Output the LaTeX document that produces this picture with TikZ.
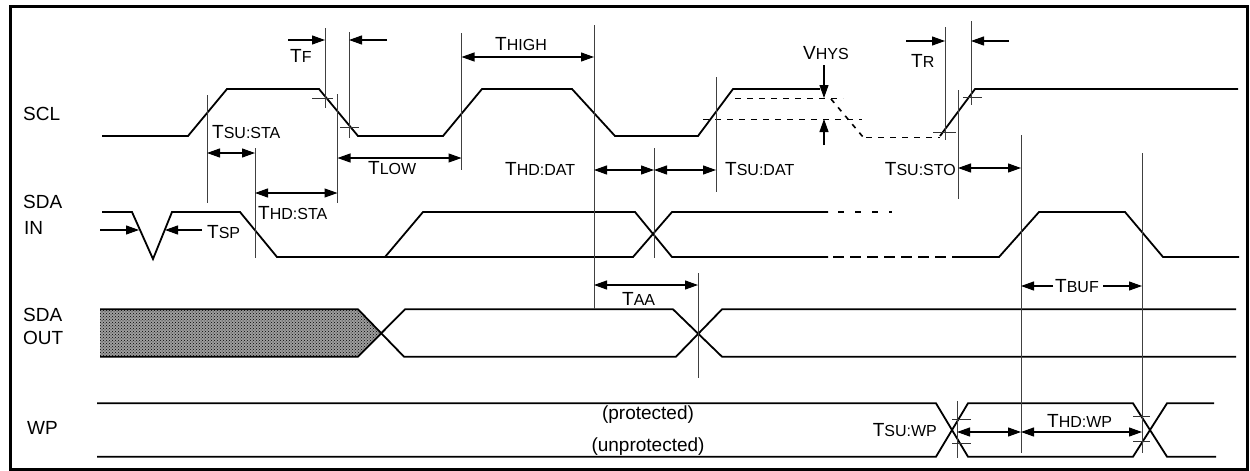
\documentclass[tikz,border=0pt]{standalone}
\usepackage{fontspec}
\setmainfont{Liberation Sans}
\usetikzlibrary{arrows.meta,patterns}
\newcommand\tsub[1]{{\fontsize{16}{16}\selectfont #1}}
\tikzset{
  sig/.style={line width=1.8pt, line join=miter},
  dim/.style={line width=1.1pt},
  vl/.style={line width=1pt, black!75},
  tick/.style={line width=1pt, black!80},
  tip/.style={-{Triangle[length=13pt,width=9pt]}, line width=1.1pt},
  dtip/.style={{Triangle[length=13pt,width=9pt]}-{Triangle[length=13pt,width=9pt]}, line width=1.1pt},
  lab/.style={font=\fontsize{19}{19}\selectfont, inner sep=0pt},
  thr/.style={line width=1pt, dash pattern=on 6pt off 6pt},
}
\begin{document}
\begin{tikzpicture}[x=1pt,y=-1pt]
\useasboundingbox (0,0) rectangle (1250,471);
% frame
\draw[line width=3pt] (10,6.5) rectangle (1247.5,469);

% signal names
\node[lab,anchor=west] (nscl) at (23,114) {SCL};
\node[lab,anchor=west] (nsda1) at (23,202) {SDA};
\node[lab,anchor=west] (nin) at (24,228) {IN};
\node[lab,anchor=west] (nsda2) at (23,315) {SDA};
\node[lab,anchor=west] (nout) at (23,338) {OUT};
\node[lab,anchor=west] (nwp) at (27,428) {WP};

% ---------- SCL ----------
\draw[sig] (102,136) -- (188,136) -- (227,89) -- (319,89) -- (358,136) -- (443,136) -- (482,89) -- (572,89) -- (615,136) -- (698,136) -- (733,89) -- (820,89);
\draw[line width=1.6pt, dash pattern=on 5pt off 6pt] (831,99) -- (863,137);
\draw[thr] (866,137) -- (940,137);
\draw[sig] (940,136) -- (975,89) -- (1238,89);
% hysteresis thresholds
\draw[thr] (735,98.3) -- (843,98.3);
\draw[thr] (703,119) -- (862,119);
\draw[tip] (824,65) -- (824,98);
\draw[tip] (824,145) -- (824,119);
\node[lab,anchor=west] (vhys) at (803,53) {V\tsub{HYS}};

% ---------- SDA IN ----------
\draw[sig] (102,212) -- (132,212) -- (153,259) -- (172,212) -- (240,212) -- (277,257) -- (633,257) -- (672,212) -- (828,212);
\draw[sig] (385,257) -- (423,212) -- (635,212) -- (672,257) -- (828,257);
\draw[line width=1.6pt, dash pattern=on 6pt off 11pt] (838,212) -- (892,212);
\draw[line width=1.6pt, dash pattern=on 11pt off 6pt] (833,257) -- (960,257);
\draw[sig] (960,257) -- (999,257) -- (1039,212) -- (1125,212) -- (1163,257) -- (1239,257);

% ---------- SDA OUT ----------
\path[fill=black!38] (100,309.3) -- (358,309.3) -- (381,333) -- (358,356.7) -- (100,356.7) -- cycle;
\path[pattern=crosshatch dots, pattern color=black] (100,309.3) -- (358,309.3) -- (381,333) -- (358,356.7) -- (100,356.7) -- cycle;
\draw[sig] (100,309.3) -- (358,309.3) -- (404,356.7) -- (676,356.7) -- (722,309.3) -- (1236,309.3);
\draw[sig] (100,356.7) -- (358,356.7) -- (405,309.3) -- (673,309.3) -- (722,356.7) -- (1236,356.7);

% ---------- WP ----------
\draw[sig] (97,403.3) -- (936,403.3) -- (968,456.7) -- (1133,456.7) -- (1167,403.3) -- (1214,403.3);
\draw[sig] (97,456.7) -- (936,456.7) -- (968,403.3) -- (1133,403.3) -- (1167,456.7) -- (1216,456.7);
\node[lab] (prot) at (648,415) {(protected)};
\node[lab] (unprot) at (648,447) {(unprotected)};

% ---------- vertical reference lines ----------
\draw[vl] (325,28) -- (325,108);
\draw[vl] (349,32) -- (349,138);
\draw[vl] (207,95) -- (207,203);
\draw[vl] (255,148) -- (255,258);
\draw[vl] (337.5,94) -- (337.5,203);
\draw[vl] (461.5,33) -- (461.5,170);
\draw[vl] (594,25) -- (594,309);
\draw[vl] (654,148) -- (654,258);
\draw[vl] (716,77) -- (716,192);
\draw[vl] (698,273) -- (698,378);
\draw[vl] (945,27) -- (945,140);
\draw[vl] (971,21) -- (971,105);
\draw[vl] (958,90) -- (958,199);
\draw[vl] (1021,135) -- (1021,453);
\draw[vl] (1142,153) -- (1142,453);
\draw[vl] (957,401) -- (957,458);

% ticks
\draw[tick] (312,98) -- (333,98);
\draw[tick] (340,127) -- (359,127);
\draw[tick] (933,132) -- (956,132);
\draw[tick] (963,97) -- (982,97);
\draw[tick] (952,419) -- (971,419);
\draw[tick] (952,443) -- (971,443);
\draw[tick] (1133,416) -- (1150,416);
\draw[tick] (1133,441) -- (1150,441);

% ---------- dimensions ----------
% TF
\draw[tip] (288,40) -- (325,40);
\draw[tip] (387,40) -- (349,40);
\node[lab,anchor=west] (tf) at (290,56) {T\tsub{F}};
% TR
\draw[tip] (906,41) -- (945,41);
\draw[tip] (1009,41) -- (971,41);
\node[lab,anchor=west] (tr) at (911,61) {T\tsub{R}};
% TSU:STA
\draw[dtip] (207,153) -- (255,153);
\node[lab,anchor=west] (tsusta) at (212,132) {T\tsub{SU:STA}};
% THD:STA
\draw[dtip] (255,193) -- (337.5,193);
\node[lab,anchor=west] (thdsta) at (258,213) {T\tsub{HD:STA}};
% TLOW
\draw[dtip] (337.5,158) -- (461.5,158);
\node[lab,anchor=west] (tlow) at (368,168) {T\tsub{LOW}};
% THIGH
\draw[dtip] (461.5,57) -- (594,57);
\node[lab,anchor=west] (thigh) at (495,44) {T\tsub{HIGH}};
% THD:DAT / TSU:DAT
\draw[dtip] (594,170) -- (654,170);
\draw[dtip] (654,170) -- (716,170);
\node[lab,anchor=west] (thddat) at (505,169) {T\tsub{HD:DAT}};
\node[lab,anchor=west] (tsudat) at (725,169) {T\tsub{SU:DAT}};
% TSU:STO
\draw[dtip] (958,168) -- (1021,168);
\node[lab,anchor=east] (tsusto) at (956,169) {T\tsub{SU:STO}};
% TSP
\draw[tip] (100,230) -- (139,230);
\draw[tip] (202,230) -- (165,230);
\node[lab,anchor=west] (tsp) at (207,232) {T\tsub{SP}};
% TAA
\draw[dtip] (594,285) -- (698,285);
\node[lab,anchor=west] (taa) at (622,299) {T\tsub{AA}};
% TBUF
\node[lab,anchor=west] (tbuf) at (1055,286) {T\tsub{BUF}};
\draw[tip] (tbuf.west) ++(-2,0) -- (1021,286);
\draw[tip] (1103,286) -- (1142,286);
% TSU:WP / THD:WP
\draw[dtip] (957,432) -- (1021,432);
\draw[dtip] (1021,432) -- (1142,432);
\node[lab,anchor=east] (tsuwp) at (937,430) {T\tsub{SU:WP}};
\node[lab,anchor=west] (thdwp) at (1047,421) {T\tsub{HD:WP}};
\end{tikzpicture}
\end{document}
